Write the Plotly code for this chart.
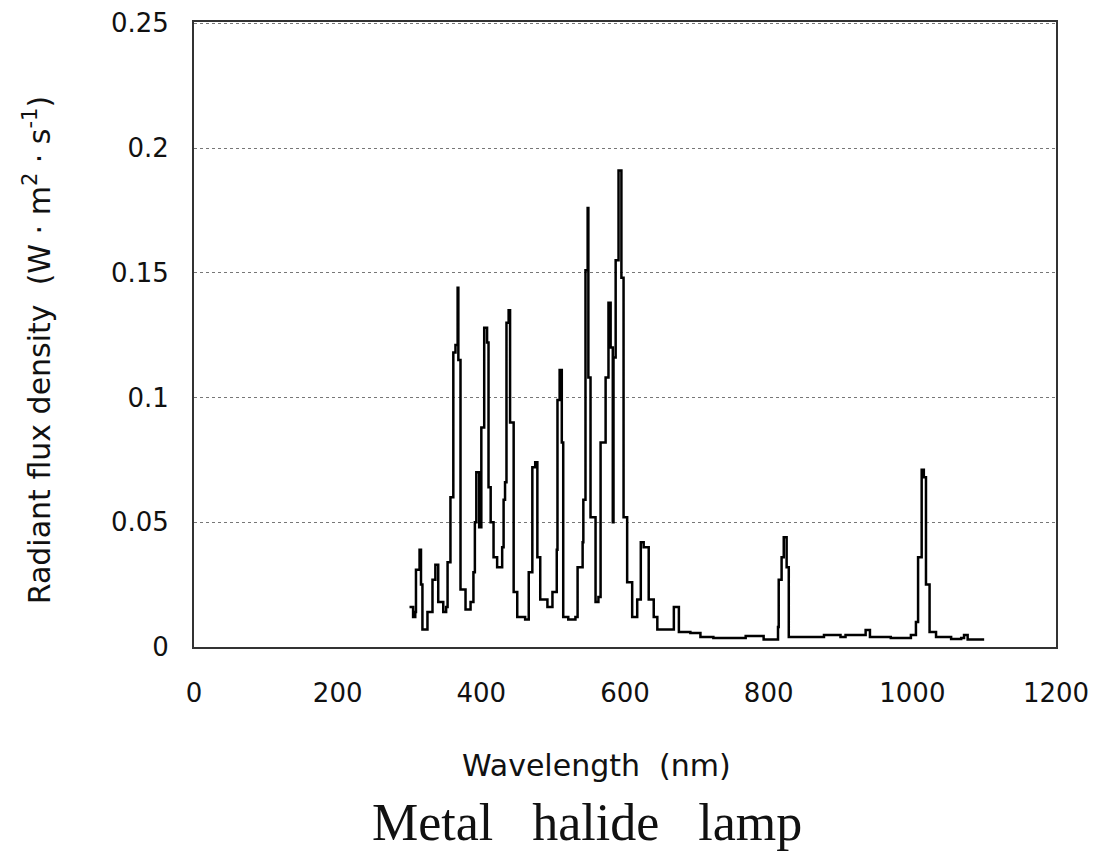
import plotly.graph_objects as go

wavelength = [300, 305, 308, 309, 314, 316, 318, 323, 325, 332, 336, 340, 347, 351, 353, 357,
              361, 364, 367, 368, 371, 378, 385, 389, 391, 393, 397, 400, 404, 408, 410, 413,
              417, 422, 429, 431, 433, 435, 438, 440, 445, 450, 461, 466, 471, 475, 478, 482,
              492, 499, 505, 506, 509, 512, 514, 521, 531, 534, 541, 542, 545, 548, 549, 552,
              559, 563, 566, 573, 577, 580, 583, 584, 587, 591, 595, 598, 603, 610, 617, 622,
              626, 633, 640, 645, 663, 668, 670, 675, 691, 705, 723, 754, 768, 782, 793, 810,
              813, 814, 818, 821, 825, 828, 872, 877, 900, 907, 931, 935, 941, 970, 998, 1005,
              1008, 1013, 1016, 1019, 1024, 1033, 1054, 1068, 1072, 1077, 1100]
flux = [0.016, 0.012, 0.014, 0.031, 0.039, 0.025, 0.007, 0.007, 0.014, 0.027, 0.033, 0.018,
        0.014, 0.016, 0.034, 0.060, 0.118, 0.121, 0.144, 0.115, 0.023, 0.015, 0.018, 0.030,
        0.050, 0.070, 0.048, 0.088, 0.128, 0.122, 0.064, 0.050, 0.036, 0.032, 0.040, 0.059,
        0.066, 0.130, 0.135, 0.090, 0.022, 0.012, 0.011, 0.030, 0.072, 0.074, 0.036, 0.019,
        0.016, 0.022, 0.039, 0.099, 0.111, 0.082, 0.012, 0.011, 0.012, 0.032, 0.042, 0.059,
        0.151, 0.176, 0.108, 0.052, 0.018, 0.020, 0.082, 0.108, 0.138, 0.120, 0.050, 0.116,
        0.155, 0.191, 0.148, 0.052, 0.026, 0.012, 0.019, 0.042, 0.040, 0.019, 0.012, 0.007,
        0.007, 0.016, 0.016, 0.006, 0.0056, 0.004, 0.0036, 0.0036, 0.0044, 0.0044, 0.003,
        0.003, 0.008, 0.027, 0.036, 0.044, 0.032, 0.004, 0.004, 0.0048, 0.004, 0.0048,
        0.0048, 0.0068, 0.004, 0.0036, 0.0048, 0.010, 0.036, 0.071, 0.068, 0.025, 0.006,
        0.004, 0.0032, 0.0036, 0.0048, 0.003, 0.003]

x_ticks = [0, 200, 400, 600, 800, 1000, 1200]
y_ticks = [0, 0.05, 0.1, 0.15, 0.2, 0.25]
y_tick_text = ["0", "0.05", "0.1", "0.15", "0.2", "0.25"]

fig = go.Figure()
fig.add_trace(go.Scatter(x=wavelength, y=flux, mode="lines",
                         line=dict(color="black", width=2.5, shape="hv"),
                         showlegend=False))

tick_font = dict(family="DejaVu Sans, Liberation Sans, sans-serif", size=26, color="#111")
title_font = dict(family="DejaVu Sans, Liberation Sans, sans-serif", size=30, color="#111")

fig.update_layout(
    width=1094, height=856,
    paper_bgcolor="white", plot_bgcolor="white",
    margin=dict(l=194, r=38, t=22, b=209),
    font=tick_font,
    xaxis=dict(range=[0, 1200], tickvals=x_ticks, showgrid=False, zeroline=False,
               showline=True, mirror=True, linecolor="#333", linewidth=2,
               ticks="", ticklabelstandoff=22, tickfont=tick_font, automargin=False),
    yaxis=dict(range=[0, 0.2505], tickvals=y_ticks, ticktext=y_tick_text,
               showgrid=True, gridcolor="#777", griddash="dot", gridwidth=1,
               zeroline=False, showline=True, mirror=True, linecolor="#333",
               linewidth=2, ticks="", ticklabelstandoff=18, tickfont=tick_font,
               automargin=False),
    annotations=[
        dict(text="Wavelength  (nm)", x=0.4675, y=-0.189, xref="paper", yref="paper",
             showarrow=False, font=title_font, xanchor="center", yanchor="middle"),
        dict(text="Radiant flux density  (W · m<sup>2</sup> · s<sup>-1</sup>)",
             x=-0.182, y=0.475, xref="paper", yref="paper", textangle=-90,
             showarrow=False, font=title_font, xanchor="center", yanchor="middle"),
        dict(text="Metal   halide   lamp", x=0.456, y=-0.281, xref="paper", yref="paper",
             showarrow=False, xanchor="center", yanchor="middle",
             font=dict(family="Liberation Serif, Times New Roman, serif", size=52, color="#111")),
    ],
)

fig.write_html("out.html", config={"displayModeBar": False},
               post_script="document.body.style.margin='0';document.body.style.overflow='hidden';")
